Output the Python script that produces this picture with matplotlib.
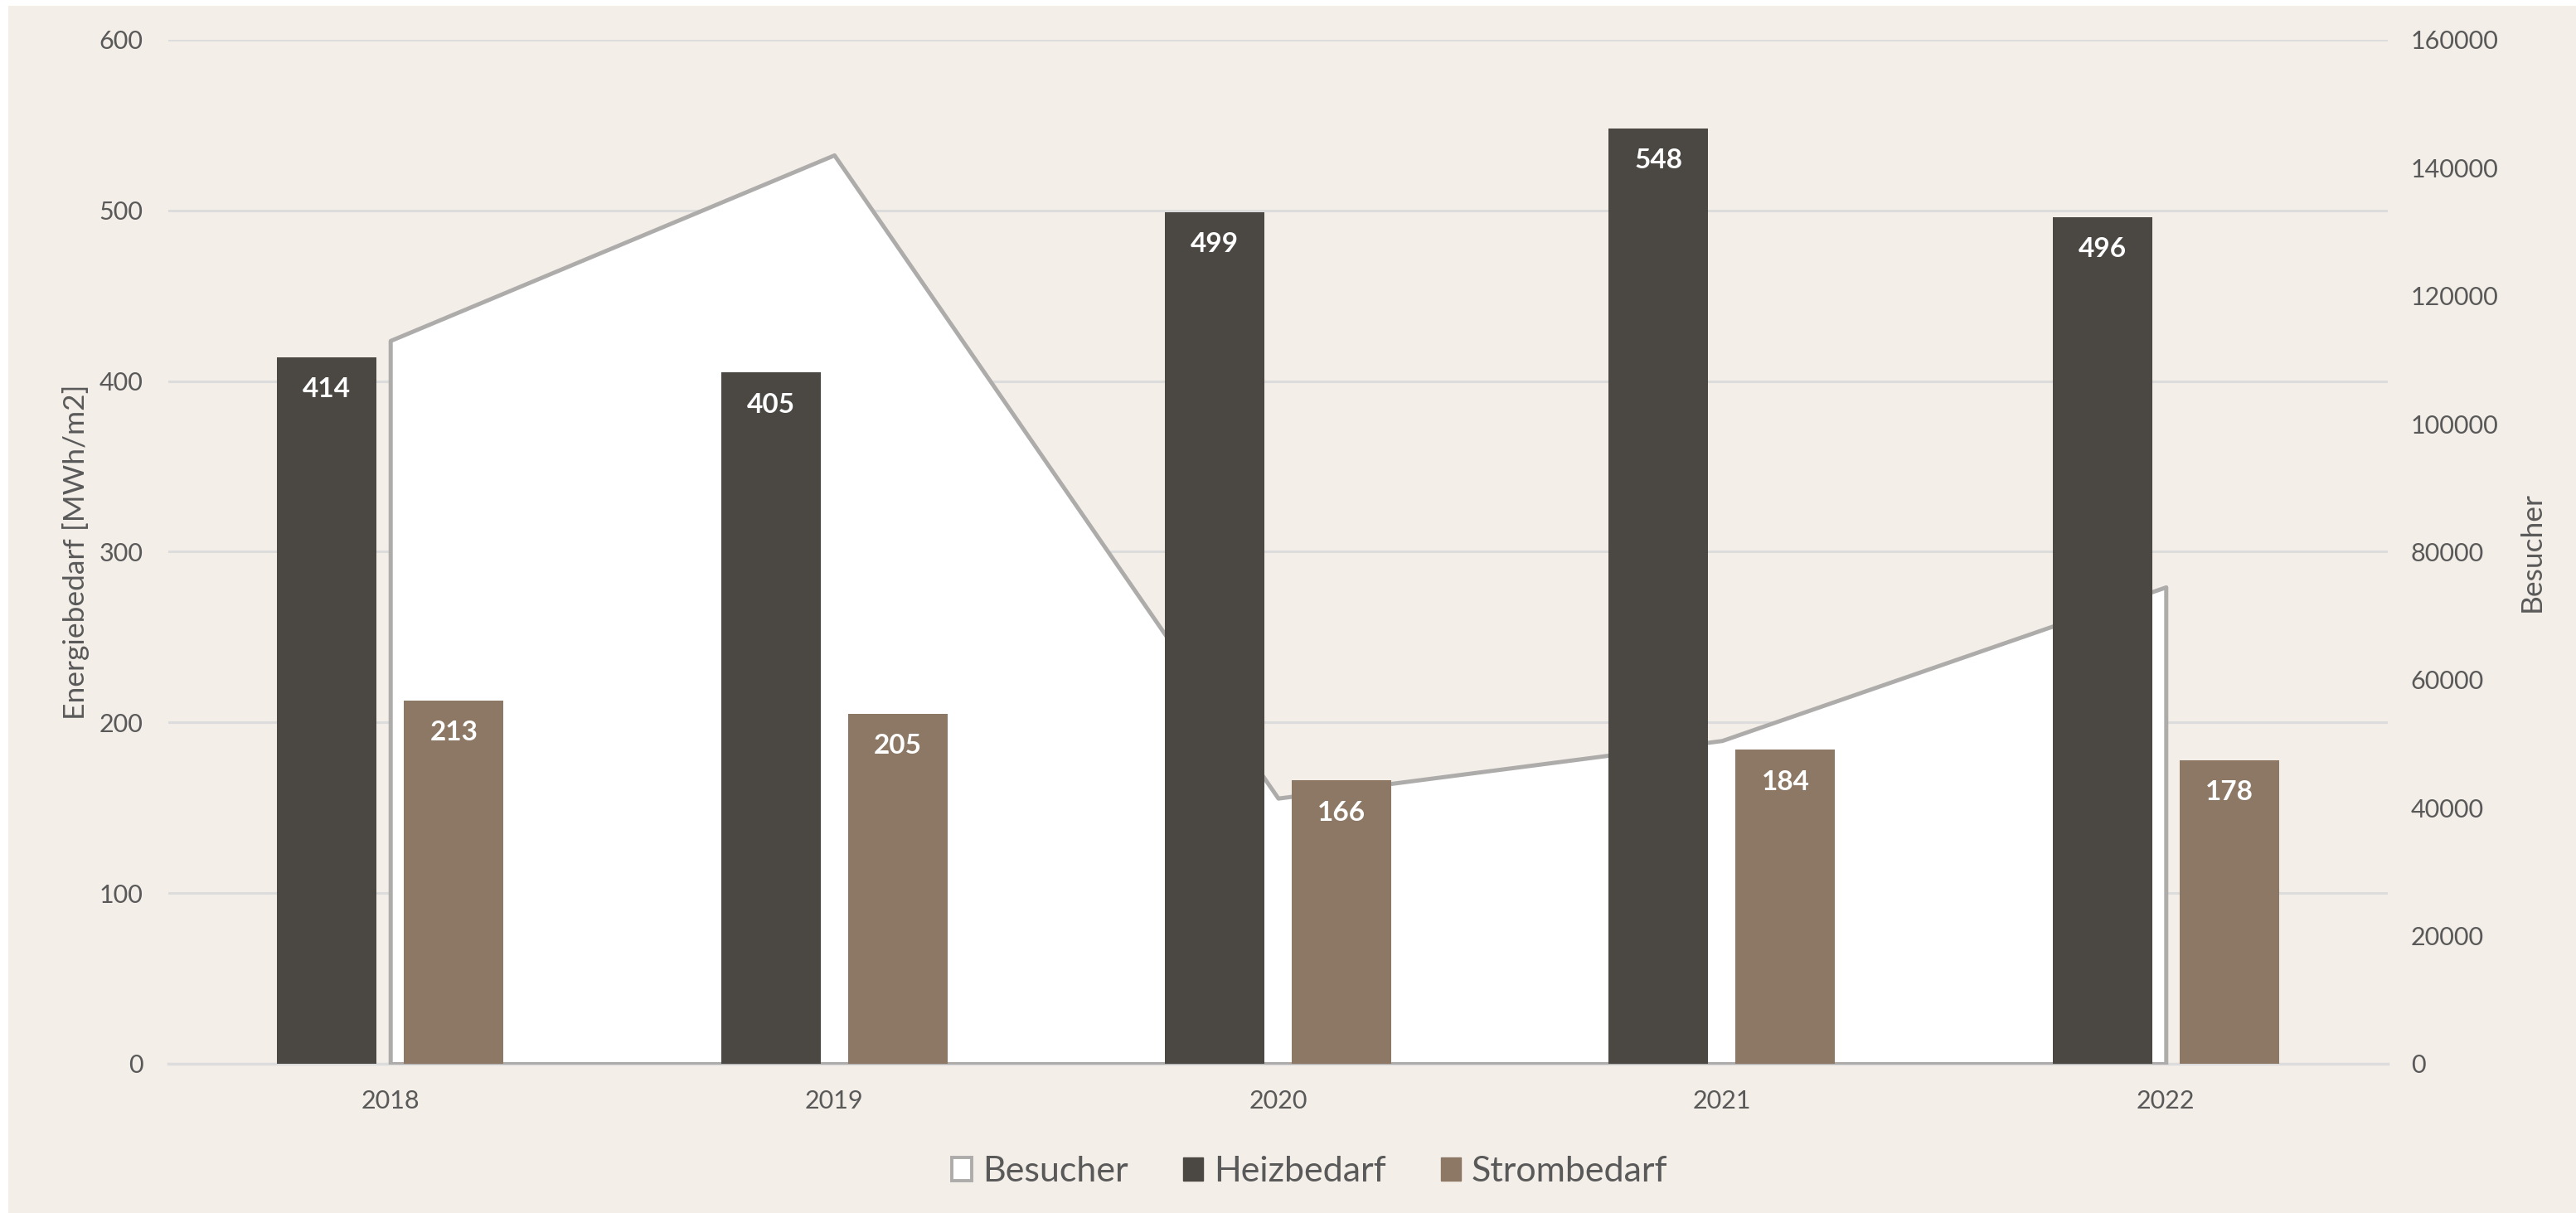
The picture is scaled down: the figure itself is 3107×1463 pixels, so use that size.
import matplotlib
matplotlib.use("Agg")
import matplotlib.pyplot as plt
from matplotlib.patches import Patch, Rectangle
import numpy as np

years = ["2018", "2019", "2020", "2021", "2022"]
heizbedarf = [414, 405, 499, 548, 496]
strombedarf = [213, 205, 166, 184, 178]
besucher = [113000, 142000, 41500, 50500, 74500]

left_ticks = [0, 100, 200, 300, 400, 500, 600]
right_ticks = [0, 20000, 40000, 60000, 80000, 100000, 120000, 140000, 160000]

BG = "#f4eee8"
HEIZ = "#4b4843"
STROM = "#8c7864"
AREA_EDGE = "#adacaa"
GRID = "#dcdcdc"
TXT = "#595959"

plt.rcParams['font.family'] = ['Lato', 'DejaVu Sans']

fig = plt.figure(figsize=(31.07, 14.63), dpi=100, facecolor="white")
fig.patches.append(Rectangle((10 / 3107, 0), 1, 1 - 7 / 1463, transform=fig.transFigure,
                             facecolor=BG, edgecolor="none", zorder=-10))

rect = [203 / 3107, 1 - 1283 / 1463, (2880 - 203) / 3107, (1283 - 48) / 1463]
ax = fig.add_axes(rect)
ax.set_facecolor("none")
x = np.arange(len(years))

# left axis: gridlines + ticks
ax.set_xlim(-0.5, len(years) - 0.5)
ax.set_ylim(0, 600)
ax.set_yticks(left_ticks)
ax.yaxis.grid(True, color=GRID, linewidth=2.2)
ax.set_axisbelow(True)
ax.set_xticks(x)
ax.set_xticklabels(years)
ax.tick_params(axis="both", length=0, labelsize=22, labelcolor=TXT)
ax.tick_params(axis="y", pad=22)
ax.tick_params(axis="x", pad=22)
for s in ["top", "left", "right"]:
    ax.spines[s].set_visible(False)
ax.spines["bottom"].set_color(GRID)
ax.spines["bottom"].set_linewidth(2.5)
ax.set_ylabel("Energiebedarf [MWh/m2]", fontsize=25.5, color=TXT, labelpad=8)

# right axis: Besucher area
axA = ax.twinx()
axA.set_zorder(ax.get_zorder() + 1)
axA.patch.set_visible(False)
axA.set_ylim(0, 160000)
axA.set_yticks(right_ticks)
axA.tick_params(axis="y", length=0, labelsize=22, labelcolor=TXT, pad=20)
for s in ["top", "left", "right", "bottom"]:
    axA.spines[s].set_visible(False)
axA.fill_between(x, besucher, 0, facecolor="white", edgecolor=AREA_EDGE, linewidth=3.6)
axA.set_ylabel("Besucher", fontsize=25.5, color=TXT, rotation=90, labelpad=17)

# bars on top
axB = ax.twinx()
axB.set_zorder(axA.get_zorder() + 1)
axB.patch.set_visible(False)
axB.set_ylim(0, 600)
axB.set_yticks([])
for s in ["top", "left", "right", "bottom"]:
    axB.spines[s].set_visible(False)
w = 0.224
off = 0.143
b1 = axB.bar(x - off, heizbedarf, width=w, color=HEIZ)
b2 = axB.bar(x + off, strombedarf, width=w, color=STROM)
for bars, vals in [(b1, heizbedarf), (b2, strombedarf)]:
    for r, v in zip(bars, vals):
        axB.annotate(str(v), (r.get_x() + r.get_width() / 2, v), xytext=(0, -28),
                     textcoords="offset points", ha="center", va="center",
                     fontsize=24, fontweight="bold", color="white")

handles = [Patch(facecolor="white", edgecolor=AREA_EDGE, linewidth=2.8, label="Besucher"),
           Patch(facecolor=HEIZ, edgecolor=HEIZ, label="Heizbedarf"),
           Patch(facecolor=STROM, edgecolor=STROM, label="Strombedarf")]
fig.legend(handles=handles, loc="center", bbox_to_anchor=(1580 / 3107, 1 - 1413 / 1463),
           ncol=3, frameon=False, fontsize=31, labelcolor=TXT,
           handlelength=0.55, handleheight=0.62, handletextpad=0.3, columnspacing=1.55)

fig.savefig("out.png", dpi=100, facecolor=fig.get_facecolor())
